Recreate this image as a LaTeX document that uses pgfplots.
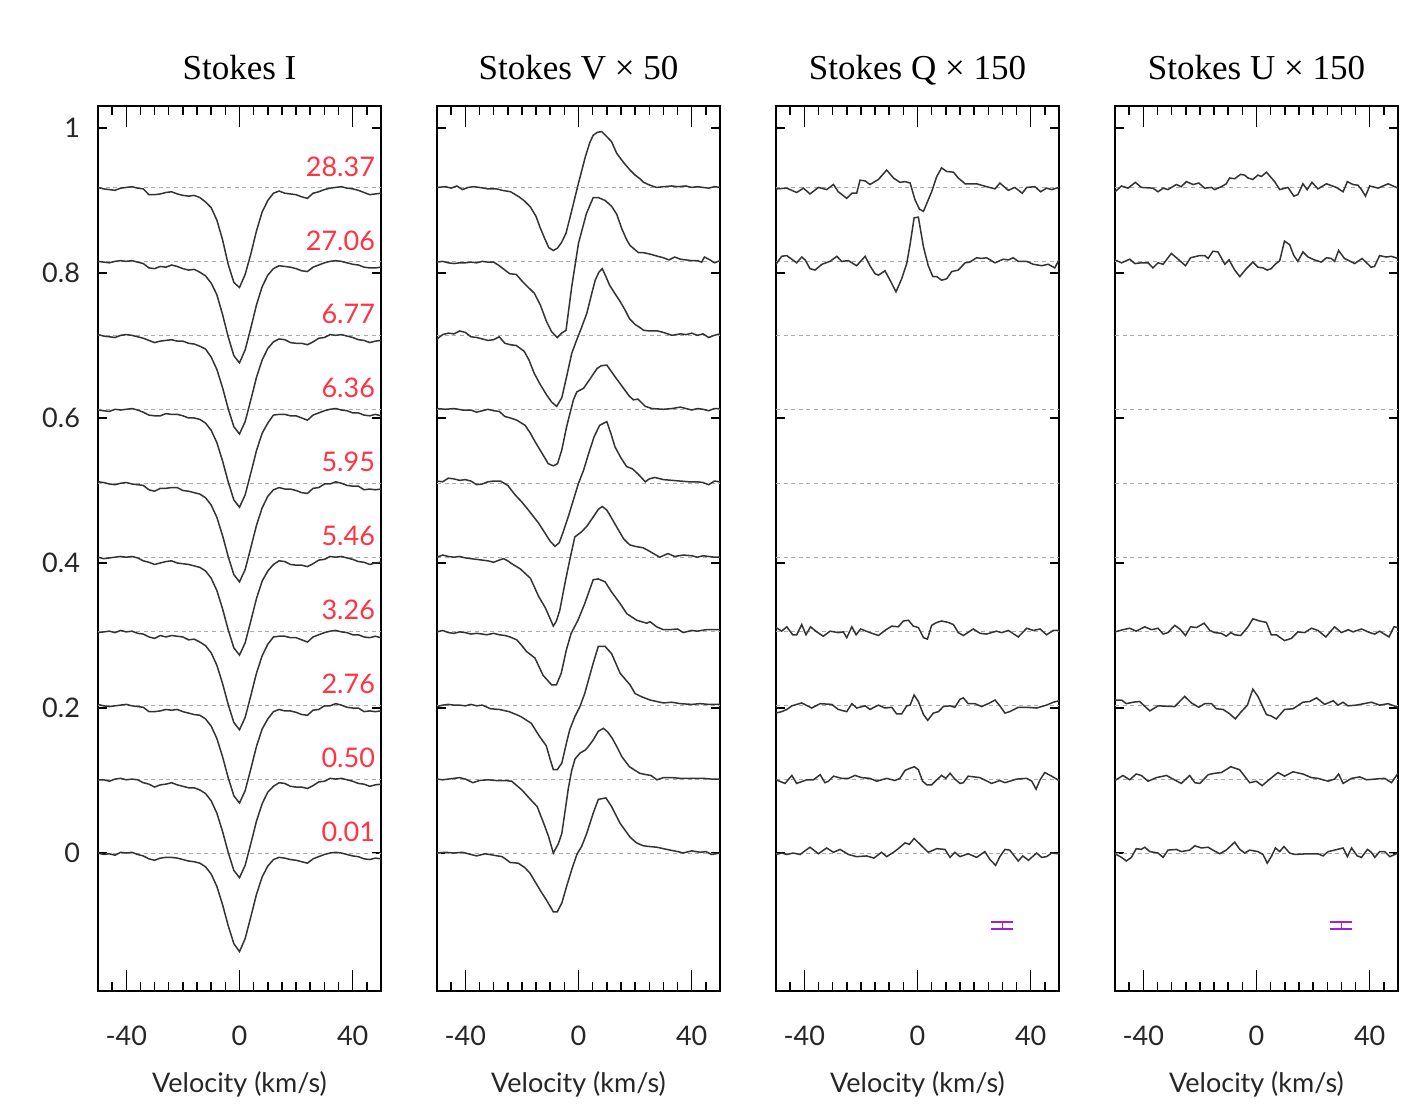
\documentclass[border=0pt]{standalone}
\usepackage{fontspec}
\setmainfont{Lato}
\newfontfamily\titlefont{Liberation Serif}
\usepackage{pgfplots}
\usepackage{pgfplotstable}
\pgfplotsset{compat=1.18}
\definecolor{cline}{HTML}{333333}
\definecolor{cdash}{HTML}{AAAAAA}
\definecolor{cred}{HTML}{FF3344}
\definecolor{cpurple}{HTML}{A21FDA}

% Stokes I profiles relative to their offsets; p0 = phase 0.01 ... p9 = phase 28.37
\pgfplotstableread{
v p0 p1 p2 p3 p4 p5 p6 p7 p8 p9
-50 0.000 -0.001 0.001 -0.002 0.000 0.002 -0.001 0.001 0.000 0.000
-48 -0.002 -0.001 -0.001 -0.001 -0.002 0.001 -0.002 -0.001 -0.001 -0.002
-46 -0.001 -0.003 -0.002 0.000 -0.001 -0.001 -0.003 -0.002 -0.002 -0.003
-44 -0.003 0.000 -0.001 -0.002 0.000 -0.002 0.000 -0.003 0.000 -0.004
-42 0.001 0.001 0.000 0.001 0.001 0.000 -0.001 0.000 0.001 -0.001
-40 0.000 -0.001 0.001 -0.001 0.000 0.001 0.000 0.001 0.000 0.000
-38 0.001 0.000 -0.001 0.000 0.001 -0.001 0.001 0.000 0.001 0.001
-36 -0.002 -0.001 -0.002 -0.003 -0.001 -0.002 -0.001 -0.002 -0.001 -0.001
-34 -0.004 -0.005 -0.003 -0.004 -0.005 -0.003 -0.004 -0.004 -0.003 -0.002
-32 -0.008 -0.007 -0.009 -0.008 -0.007 -0.009 -0.008 -0.007 -0.009 -0.010
-30 -0.010 -0.011 -0.009 -0.010 -0.010 -0.011 -0.009 -0.010 -0.010 -0.010
-28 -0.007 -0.008 -0.008 -0.006 -0.008 -0.007 -0.009 -0.008 -0.007 -0.009
-26 -0.006 -0.007 -0.006 -0.008 -0.006 -0.007 -0.006 -0.007 -0.008 -0.007
-24 -0.006 -0.005 -0.007 -0.006 -0.005 -0.006 -0.007 -0.006 -0.005 -0.006
-22 -0.007 -0.008 -0.006 -0.007 -0.008 -0.006 -0.007 -0.008 -0.007 -0.009
-20 -0.009 -0.010 -0.009 -0.008 -0.009 -0.010 -0.009 -0.008 -0.010 -0.011
-18 -0.011 -0.012 -0.011 -0.012 -0.010 -0.011 -0.012 -0.011 -0.012 -0.012
-16 -0.012 -0.012 -0.013 -0.011 -0.012 -0.013 -0.012 -0.012 -0.011 -0.011
-14 -0.014 -0.015 -0.014 -0.015 -0.014 -0.015 -0.014 -0.015 -0.015 -0.014
-12 -0.019 -0.020 -0.019 -0.020 -0.019 -0.020 -0.019 -0.019 -0.020 -0.020
-10 -0.029 -0.030 -0.029 -0.030 -0.029 -0.030 -0.029 -0.030 -0.030 -0.028
-8 -0.046 -0.047 -0.046 -0.047 -0.046 -0.047 -0.046 -0.047 -0.046 -0.045
-6 -0.071 -0.072 -0.071 -0.072 -0.071 -0.072 -0.071 -0.072 -0.073 -0.072
-4 -0.100 -0.101 -0.100 -0.101 -0.100 -0.101 -0.100 -0.101 -0.104 -0.106
-2 -0.125 -0.126 -0.125 -0.126 -0.125 -0.126 -0.125 -0.126 -0.130 -0.131
0 -0.136 -0.136 -0.135 -0.136 -0.135 -0.136 -0.135 -0.136 -0.140 -0.138
2 -0.118 -0.119 -0.118 -0.119 -0.118 -0.119 -0.118 -0.119 -0.122 -0.120
4 -0.088 -0.089 -0.088 -0.089 -0.088 -0.089 -0.088 -0.089 -0.092 -0.092
6 -0.057 -0.058 -0.057 -0.058 -0.057 -0.058 -0.057 -0.058 -0.060 -0.060
8 -0.033 -0.034 -0.033 -0.034 -0.033 -0.034 -0.033 -0.034 -0.035 -0.034
10 -0.018 -0.018 -0.019 -0.018 -0.019 -0.018 -0.019 -0.018 -0.019 -0.018
12 -0.009 -0.010 -0.009 -0.008 -0.010 -0.009 -0.008 -0.009 -0.010 -0.008
14 -0.006 -0.005 -0.006 -0.007 -0.005 -0.006 -0.007 -0.005 -0.006 -0.005
16 -0.007 -0.006 -0.008 -0.007 -0.006 -0.008 -0.007 -0.006 -0.007 -0.008
18 -0.009 -0.010 -0.008 -0.009 -0.010 -0.008 -0.009 -0.010 -0.008 -0.009
20 -0.010 -0.011 -0.010 -0.009 -0.011 -0.010 -0.009 -0.011 -0.010 -0.010
22 -0.012 -0.011 -0.013 -0.012 -0.011 -0.013 -0.012 -0.011 -0.013 -0.013
24 -0.014 -0.013 -0.014 -0.015 -0.013 -0.014 -0.015 -0.013 -0.014 -0.015
26 -0.008 -0.009 -0.007 -0.008 -0.009 -0.007 -0.008 -0.009 -0.008 -0.008
28 -0.005 -0.004 -0.006 -0.005 -0.004 -0.006 -0.005 -0.004 -0.005 -0.006
30 -0.002 -0.003 -0.001 -0.002 -0.003 -0.001 -0.002 -0.003 -0.002 -0.003
32 0.000 0.001 -0.001 0.000 0.001 -0.001 0.000 0.001 0.000 -0.001
34 0.001 0.000 0.002 0.001 0.000 0.002 0.001 0.000 0.001 0.000
36 0.000 0.001 0.000 -0.001 0.001 0.000 -0.001 0.001 0.000 0.001
38 -0.002 -0.001 -0.003 -0.002 -0.001 -0.003 -0.002 -0.001 -0.002 -0.001
40 -0.004 -0.003 -0.004 -0.005 -0.003 -0.004 -0.005 -0.003 -0.004 -0.002
42 -0.005 -0.006 -0.004 -0.005 -0.006 -0.004 -0.005 -0.006 -0.005 -0.004
44 -0.008 -0.007 -0.009 -0.008 -0.007 -0.009 -0.008 -0.007 -0.008 -0.007
46 -0.009 -0.010 -0.008 -0.009 -0.010 -0.008 -0.009 -0.010 -0.009 -0.010
48 -0.007 -0.008 -0.009 -0.007 -0.008 -0.009 -0.007 -0.008 -0.009 -0.009
50 -0.008 -0.007 -0.008 -0.009 -0.007 -0.008 -0.009 -0.007 -0.008 -0.008
}\tabI

\pgfplotsset{
  prof/.style={cline, line width=0.75pt, mark=none},
  dsh/.style={cdash, line width=0.5pt, dash pattern=on 2pt off 1.8pt, mark=none},
  ebar/.style={cpurple, mark=none, error bars/.cd, y dir=both, y explicit, error mark=|,
    error bar style={line width=0.75pt, cpurple},
    error mark options={mark size=5.5pt, line width=0.75pt, cpurple}},
  panel/.style={
    scale only axis, width=141.5pt, height=442.5pt, anchor=south west,
    xmin=-50, xmax=50, ymin=-0.1903, ymax=1.0303,
    xtick={-40,0,40}, xticklabels={-40,0,40},
    minor xtick={-45,-35,-30,-25,-20,-15,-10,-5,5,10,15,20,25,30,35,45},
    ytick={0,0.2,0.4,0.6,0.8,1}, yticklabels={},
    tick align=inside,
    tick style={black, line width=0.75pt},
    xtick style={/pgfplots/major tick length=10.5pt, /pgfplots/minor tick length=4.5pt},
    ytick style={/pgfplots/major tick length=4.5pt},
    axis line style={black, line width=0.9pt},
    tick label style={font=\fontsize{13.5}{16}\selectfont, color=black!85},
    xticklabel style={anchor=base, yshift=-27pt},
    yticklabel style={xshift=-5.5pt},
    xlabel={Velocity (km/s)},
    xlabel style={font=\fontsize{13.5}{16}\selectfont, color=black!85, at={(axis description cs:0.5,0)}, anchor=base, yshift=-50.5pt},
    title style={font=\titlefont\fontsize{17.5}{21}\selectfont, at={(axis description cs:0.5,1)}, anchor=base, yshift=7pt},
  }
}
\newcommand{\prof}[2]{\addplot[prof] table[row sep=\\, x=v, y expr=\thisrow{d}+#1]{v d\\ #2};}
\newcommand{\dashlines}{%
  \addplot[dsh] coordinates {(-50,0) (50,0)};
  \addplot[dsh] coordinates {(-50,0.102) (50,0.102)};
  \addplot[dsh] coordinates {(-50,0.204) (50,0.204)};
  \addplot[dsh] coordinates {(-50,0.306) (50,0.306)};
  \addplot[dsh] coordinates {(-50,0.408) (50,0.408)};
  \addplot[dsh] coordinates {(-50,0.510) (50,0.510)};
  \addplot[dsh] coordinates {(-50,0.612) (50,0.612)};
  \addplot[dsh] coordinates {(-50,0.714) (50,0.714)};
  \addplot[dsh] coordinates {(-50,0.816) (50,0.816)};
  \addplot[dsh] coordinates {(-50,0.918) (50,0.918)};
}
\newcommand{\phlabel}[2]{\node[anchor=east, inner sep=0pt, text=cred, font=\fontsize{13.5}{16}\selectfont] at (axis cs:48,#1) {#2};}

\begin{document}
\begin{tikzpicture}
\useasboundingbox (0pt,0pt) rectangle (706pt,557.5pt);

% ---------------- Stokes I ----------------
\begin{axis}[panel, at={(49pt,62pt)}, title={Stokes I}, yticklabels={0,0.2,0.4,0.6,0.8,1}]
\dashlines
\addplot[prof] table[x=v, y expr=\thisrow{p0}+0] {\tabI};
\addplot[prof] table[x=v, y expr=\thisrow{p1}+0.102] {\tabI};
\addplot[prof] table[x=v, y expr=\thisrow{p2}+0.204] {\tabI};
\addplot[prof] table[x=v, y expr=\thisrow{p3}+0.306] {\tabI};
\addplot[prof] table[x=v, y expr=\thisrow{p4}+0.408] {\tabI};
\addplot[prof] table[x=v, y expr=\thisrow{p5}+0.510] {\tabI};
\addplot[prof] table[x=v, y expr=\thisrow{p6}+0.612] {\tabI};
\addplot[prof] table[x=v, y expr=\thisrow{p7}+0.714] {\tabI};
\addplot[prof] table[x=v, y expr=\thisrow{p8}+0.816] {\tabI};
\addplot[prof] table[x=v, y expr=\thisrow{p9}+0.918] {\tabI};
\phlabel{0.947}{28.37}
\phlabel{0.845}{27.06}
\phlabel{0.743}{6.77}
\phlabel{0.641}{6.36}
\phlabel{0.539}{5.95}
\phlabel{0.437}{5.46}
\phlabel{0.335}{3.26}
\phlabel{0.233}{2.76}
\phlabel{0.131}{0.50}
\phlabel{0.029}{0.01}
\end{axis}

% ---------------- Stokes V ----------------
\begin{axis}[panel, at={(218.5pt,62pt)}, title={Stokes V × 50}]
\dashlines
\prof{0.918}{-50 0\\ -47 0.001\\ -45 -0.001\\ -43 0.002\\ -41 -0.003\\ -39 0\\ -37 0.001\\ -35 0\\ -32 -0.002\\ -29 -0.002\\ -27 -0.004\\ -24 -0.006\\ -21 -0.013\\ -19 -0.019\\ -17 -0.027\\ -15 -0.040\\ -13.6 -0.055\\ -12 -0.070\\ -10.5 -0.083\\ -8.9 -0.087\\ -7.5 -0.084\\ -6 -0.076\\ -4.4 -0.063\\ -2.4 -0.032\\ 0 0.006\\ 2.4 0.042\\ 4 0.062\\ 5.2 0.072\\ 6.7 0.076\\ 8.2 0.077\\ 10 0.070\\ 11.7 0.063\\ 13.5 0.047\\ 16 0.034\\ 18.2 0.024\\ 20 0.017\\ 21.7 0.012\\ 23 0.007\\ 24.7 0.004\\ 26 0.002\\ 27.6 0\\ 30 0.001\\ 33 0.002\\ 35 0.001\\ 38 0.002\\ 40 0\\ 42 0.001\\ 44 0\\ 46 -0.001\\ 48 0.001\\ 50 0\\}
\prof{0.816}{-50 -0.001\\ -48 0\\ -46 -0.002\\ -44 -0.003\\ -42 -0.002\\ -40 -0.002\\ -38 -0.001\\ -36 -0.002\\ -34 0\\ -32 -0.001\\ -30 -0.001\\ -28 -0.006\\ -26 -0.012\\ -24.3 -0.017\\ -22 -0.018\\ -20 -0.027\\ -18.5 -0.033\\ -15.6 -0.044\\ -13.5 -0.060\\ -11.3 -0.083\\ -9.5 -0.097\\ -7.5 -0.105\\ -6 -0.099\\ -4.4 -0.095\\ -2.4 -0.035\\ 0 0.025\\ 2.8 0.066\\ 5.2 0.088\\ 7 0.088\\ 9.4 0.084\\ 11.7 0.076\\ 13.5 0.065\\ 15.3 0.045\\ 17 0.030\\ 18.2 0.022\\ 21.2 0.012\\ 23 0.012\\ 25.3 0.010\\ 28 0.007\\ 30 0.005\\ 32 0.002\\ 34 0.006\\ 36 0.003\\ 38 0.002\\ 40 0.001\\ 42 0.001\\ 43.5 -0.001\\ 44.5 0.006\\ 46.5 0.002\\ 48 -0.002\\ 50 0.001\\}
\prof{0.714}{-50 -0.005\\ -48 0.001\\ -46 0.003\\ -44 0.002\\ -42 0.006\\ -40 0.004\\ -38 -0.002\\ -36 -0.003\\ -34 -0.005\\ -32 -0.007\\ -30 -0.006\\ -28 -0.002\\ -26 -0.011\\ -24 -0.013\\ -22 -0.014\\ -19.2 -0.022\\ -17.5 -0.034\\ -15.7 -0.052\\ -13.5 -0.068\\ -11.3 -0.082\\ -9.5 -0.092\\ -7.7 -0.098\\ -5.9 -0.086\\ -4.2 -0.057\\ -2.4 -0.025\\ -1 -0.010\\ 1 0.010\\ 2.9 0.030\\ 4.5 0.055\\ 5.9 0.076\\ 7.2 0.087\\ 8.4 0.092\\ 9.8 0.080\\ 11 0.069\\ 12.8 0.058\\ 14.5 0.048\\ 16.3 0.036\\ 18 0.023\\ 20 0.015\\ 21.6 0.011\\ 23 0.007\\ 25 0.006\\ 28 0.006\\ 30 0.004\\ 33 0\\ 36 0.002\\ 38 0.001\\ 40 0.003\\ 42 0\\ 44 0.002\\ 46 -0.003\\ 48 0\\ 50 0.002\\}
\prof{0.612}{-50 0.001\\ -47 0\\ -44 0.001\\ -41 -0.001\\ -38 -0.001\\ -36 -0.004\\ -34 -0.002\\ -32 0\\ -30 -0.002\\ -28 -0.003\\ -26 -0.010\\ -24 -0.012\\ -21.8 -0.015\\ -18.9 -0.022\\ -17 -0.033\\ -15.3 -0.045\\ -13 -0.060\\ -10.7 -0.075\\ -8.9 -0.078\\ -7.4 -0.075\\ -5.9 -0.056\\ -4.2 -0.024\\ -1.8 0.013\\ -0.6 0.024\\ 1.8 0.029\\ 4.1 0.042\\ 6.5 0.056\\ 8 0.060\\ 10 0.061\\ 12.9 0.045\\ 15.9 0.029\\ 18 0.018\\ 19.4 0.013\\ 21 0.014\\ 23.6 0.004\\ 26 0.001\\ 30 0\\ 33 0.001\\ 36 0.003\\ 38 0.001\\ 40 -0.001\\ 42 0.001\\ 44 0\\ 46 -0.002\\ 48 0.001\\ 50 0.001\\}
\prof{0.510}{-50 0.003\\ -48 0.002\\ -46 0.007\\ -44 0.006\\ -42 0.004\\ -40 0.005\\ -38 0.003\\ -36 -0.002\\ -34 -0.001\\ -32 0.002\\ -30 0.003\\ -27.6 0.003\\ -25 -0.003\\ -22.4 -0.016\\ -20 -0.026\\ -17.7 -0.037\\ -14.1 -0.055\\ -11.8 -0.069\\ -10 -0.080\\ -8.3 -0.087\\ -6.8 -0.082\\ -5.4 -0.067\\ -3.6 -0.046\\ -1.8 -0.023\\ 0 0\\ 1.8 0.018\\ 3.5 0.040\\ 5.5 0.064\\ 7.5 0.080\\ 10 0.085\\ 11.5 0.068\\ 12.9 0.050\\ 15 0.035\\ 17 0.023\\ 19 0.020\\ 21 0.013\\ 23.6 0.002\\ 25 0.006\\ 27 0.008\\ 30 0.005\\ 33 0.004\\ 36 0.003\\ 39 0.002\\ 42 0.002\\ 44 0.001\\ 46 -0.002\\ 48 0.003\\ 50 0.002\\}
\prof{0.408}{-50 0\\ -48 0.003\\ -46 0.001\\ -44 0\\ -42 0.001\\ -40 -0.001\\ -38 -0.002\\ -36 -0.003\\ -34 -0.004\\ -32 -0.005\\ -30 -0.007\\ -28 -0.004\\ -26.5 -0.002\\ -25 -0.005\\ -23.6 -0.009\\ -20.6 -0.016\\ -17 -0.029\\ -14.1 -0.054\\ -11.7 -0.070\\ -10 -0.085\\ -8.9 -0.095\\ -7.8 -0.088\\ -6.6 -0.073\\ -4.8 -0.036\\ -3.1 -0.004\\ -1.3 0.028\\ 1.1 0.035\\ 3 0.043\\ 5.3 0.056\\ 7 0.066\\ 8.4 0.070\\ 10 0.065\\ 11.4 0.056\\ 13 0.045\\ 14.8 0.033\\ 16 0.025\\ 18.1 0.017\\ 20 0.015\\ 22.8 0.013\\ 25.2 0.008\\ 28.7 0\\ 31.6 0.005\\ 34 0.001\\ 37 0.003\\ 40 0.002\\ 42 0\\ 44 0.002\\ 46 0.001\\ 48 0\\ 50 0\\}
\prof{0.306}{-50 -0.001\\ -48 0.001\\ -46 -0.002\\ -44 -0.003\\ -42 -0.001\\ -40 -0.002\\ -38 -0.004\\ -36 -0.003\\ -34 -0.004\\ -32.4 -0.005\\ -30 -0.003\\ -28 -0.005\\ -26 -0.006\\ -24.2 -0.008\\ -21.8 -0.012\\ -20 -0.020\\ -18.4 -0.028\\ -15.4 -0.037\\ -12.5 -0.061\\ -9.5 -0.074\\ -7.8 -0.074\\ -6.1 -0.058\\ -4.3 -0.026\\ -2.6 -0.003\\ -0.2 0.015\\ 2.2 0.038\\ 5.2 0.071\\ 7 0.072\\ 9.4 0.068\\ 11.7 0.054\\ 14.7 0.038\\ 17.1 0.024\\ 20.6 0.015\\ 24.1 0.011\\ 25.3 0.013\\ 27.6 0.006\\ 30 0.002\\ 32 0.002\\ 35 0.003\\ 37 -0.002\\ 40 0.001\\ 42 0\\ 45 0.002\\ 48 0.002\\ 50 0.002\\}
\prof{0.204}{-50 -0.002\\ -48 0\\ -46 0.001\\ -44 0\\ -42 0\\ -40 -0.001\\ -38 0.001\\ -36 -0.001\\ -34 0\\ -31.1 -0.005\\ -28 -0.006\\ -24.5 -0.009\\ -22 -0.013\\ -20.3 -0.016\\ -16.7 -0.025\\ -13.8 -0.043\\ -11.4 -0.056\\ -10 -0.075\\ -8.9 -0.089\\ -7.5 -0.089\\ -5.9 -0.080\\ -4.3 -0.053\\ -3.1 -0.034\\ -1.3 -0.016\\ 0.5 -0.002\\ 2.2 0.016\\ 5.2 0.058\\ 7 0.081\\ 9.4 0.081\\ 11.7 0.071\\ 14.7 0.044\\ 18.2 0.028\\ 20 0.016\\ 22 0.012\\ 25.3 0.007\\ 30 0.003\\ 33 0.004\\ 36 0.002\\ 40 0.001\\ 43 0.002\\ 46 0.001\\ 50 0.001\\}
\prof{0.102}{-50 0\\ -48 -0.001\\ -46 0\\ -44 0.001\\ -42 0.002\\ -40 0\\ -37.3 -0.005\\ -35 -0.002\\ -32 -0.001\\ -29 -0.002\\ -26 -0.002\\ -23.6 -0.003\\ -20 -0.015\\ -17 -0.028\\ -14.6 -0.038\\ -12.3 -0.061\\ -10.6 -0.079\\ -8.9 -0.102\\ -7.1 -0.089\\ -5.9 -0.075\\ -4.7 -0.043\\ -3.6 -0.013\\ -2.4 0.012\\ -1.2 0.028\\ 0.6 0.036\\ 2.4 0.040\\ 3.5 0.045\\ 5.2 0.054\\ 7 0.066\\ 8.8 0.070\\ 10.3 0.065\\ 11.8 0.057\\ 13.5 0.045\\ 15.3 0.031\\ 18 0.017\\ 21.6 0.008\\ 24 0.006\\ 25.6 0.005\\ 27.7 -0.001\\ 30 0.002\\ 33 0.002\\ 36 0.001\\ 40 0.001\\ 44 0.001\\ 47 0\\ 50 0\\}
\prof{0}{-50 0\\ -47 0.001\\ -44 0\\ -41 0.001\\ -38 -0.002\\ -36 -0.004\\ -33 -0.001\\ -30 -0.003\\ -27 -0.005\\ -25.5 -0.009\\ -24.2 -0.013\\ -21.3 -0.014\\ -19 -0.020\\ -17.1 -0.028\\ -13.6 -0.051\\ -11.3 -0.065\\ -8.9 -0.081\\ -7.5 -0.081\\ -5.9 -0.069\\ -4.2 -0.046\\ -2.4 -0.023\\ -0.6 -0.002\\ 1.1 0.009\\ 2.9 0.027\\ 5.2 0.055\\ 7 0.074\\ 9.7 0.076\\ 11.7 0.064\\ 14.7 0.041\\ 18.2 0.022\\ 20.5 0.014\\ 22.9 0.010\\ 25 0.009\\ 27.7 0.008\\ 30 0.006\\ 32.4 0.004\\ 35 0.002\\ 37 0\\ 40 0.003\\ 43 0.001\\ 45 0.002\\ 47 -0.002\\ 50 0\\}
\end{axis}

% ---------------- Stokes Q ----------------
\begin{axis}[panel, at={(388pt,62pt)}, title={Stokes Q × 150}]
\dashlines
\prof{0.918}{-50 -0.002\\ -46.2 -0.001\\ -42.7 -0.007\\ -40.3 -0.001\\ -38 -0.009\\ -35 0\\ -32.1 -0.003\\ -29.7 0.004\\ -28 -0.006\\ -25 -0.015\\ -23.2 -0.008\\ -21.5 -0.008\\ -20.3 0.010\\ -18.5 0.009\\ -16.8 0.004\\ -13.8 0.011\\ -10.9 0.024\\ -8.5 0.013\\ -6.2 0.007\\ -4.4 0.008\\ -2.6 0.006\\ -0.9 -0.017\\ 0.7 -0.030\\ 2.1 -0.033\\ 5 -0.006\\ 6.8 0.015\\ 8.5 0.027\\ 10.3 0.022\\ 12.7 0.021\\ 14.4 0.013\\ 16.8 0.005\\ 20.9 0.005\\ 24.4 0.001\\ 27.4 -0.002\\ 29.1 0.006\\ 32.1 -0.004\\ 34.4 0\\ 37 -0.008\\ 38.6 0\\ 41.5 0.001\\ 43.5 -0.006\\ 45.6 -0.001\\ 47.4 -0.003\\ 50 0\\}
\prof{0.816}{-50 -0.004\\ -48 0.007\\ -46.2 0.008\\ -42.7 -0.002\\ -40.9 0.006\\ -39.7 0.002\\ -38 -0.010\\ -36.2 -0.012\\ -33.8 -0.004\\ -30.9 0\\ -28.5 0.007\\ -26.8 0\\ -24.4 0.001\\ -21.5 -0.006\\ -18.5 0.007\\ -16.8 -0.006\\ -15 -0.017\\ -13.8 -0.019\\ -11.5 -0.013\\ -9.7 -0.026\\ -7.6 -0.042\\ -5.6 -0.024\\ -3.8 -0.003\\ -2.6 0.024\\ -1.2 0.060\\ 0.3 0.061\\ 2.1 0.020\\ 3.8 -0.006\\ 5.4 -0.021\\ 6.8 -0.021\\ 8.5 -0.026\\ 10.3 -0.024\\ 12.1 -0.014\\ 14.4 -0.012\\ 16.8 -0.002\\ 18.5 -0.001\\ 20.9 0.005\\ 22.6 0.004\\ 24.4 0.005\\ 27.4 -0.002\\ 30.3 0.003\\ 32.1 0.002\\ 33.8 0.005\\ 35.6 0\\ 38.6 0\\ 40.9 -0.004\\ 43.9 -0.006\\ 46.2 -0.004\\ 48.5 -0.009\\ 50 0.002\\}
\prof{0.306}{-50 0.005\\ -48 0\\ -46.2 0.006\\ -44.1 -0.005\\ -42.7 -0.005\\ -40.9 0.009\\ -39.4 -0.005\\ -37.8 0.006\\ -35.6 -0.001\\ -33.3 -0.007\\ -30.9 0\\ -28 -0.002\\ -26.2 -0.001\\ -25 -0.009\\ -23.2 0.006\\ -21.7 -0.005\\ -20.1 0.003\\ -16.8 -0.002\\ -13.8 -0.006\\ -11.5 0.001\\ -9.1 0.007\\ -6.8 0.006\\ -5 0.014\\ -3.2 0.015\\ -1.5 0.007\\ 0.3 0.005\\ 2.1 -0.009\\ 3.5 -0.011\\ 5 0.008\\ 6.8 0.012\\ 8.5 0.014\\ 10.9 0.012\\ 12.7 0.009\\ 14.4 -0.002\\ 16.2 -0.006\\ 19.7 0.003\\ 22.1 -0.003\\ 24.4 -0.004\\ 27.9 0\\ 29.7 -0.002\\ 32.1 0.001\\ 35.6 -0.008\\ 38.6 0.004\\ 40.9 0.001\\ 43.3 0.003\\ 45.6 -0.005\\ 48 0.001\\ 50 0.001\\}
\prof{0.204}{-50 -0.011\\ -48 -0.009\\ -46.2 -0.006\\ -44.4 -0.001\\ -40.9 0.003\\ -37.4 -0.004\\ -34.4 0.002\\ -30.3 0.001\\ -28 -0.006\\ -25 -0.009\\ -23.2 0.002\\ -21.5 -0.004\\ -18.5 -0.001\\ -16.8 -0.006\\ -13.8 0\\ -11.5 -0.004\\ -9.1 -0.003\\ -7.4 -0.012\\ -5.6 -0.012\\ -3.8 -0.001\\ -2.6 0\\ -1.2 0.014\\ 0.3 0.005\\ 2.1 -0.013\\ 3.6 -0.021\\ 5.6 -0.011\\ 7.4 -0.009\\ 9.1 -0.002\\ 11.5 -0.001\\ 13.2 -0.003\\ 15 0.008\\ 16.2 0.010\\ 17.9 0.002\\ 20.3 0.002\\ 22.6 -0.002\\ 25 0.002\\ 27.4 0.007\\ 29.1 -0.001\\ 30.9 -0.011\\ 32.6 -0.009\\ 35.6 -0.003\\ 38.6 -0.003\\ 42.1 -0.004\\ 45.6 0\\ 48 0.004\\ 50 0.006\\}
\prof{0.102}{-50 -0.001\\ -46.8 -0.006\\ -44.4 0.005\\ -42.7 -0.006\\ -39.1 -0.001\\ -36.8 -0.001\\ -34.4 0.006\\ -32.7 -0.005\\ -31.5 -0.003\\ -29.7 0.004\\ -26.8 0.001\\ -24.4 0.001\\ -22.1 0.005\\ -19.7 0.002\\ -16.8 0.001\\ -14.4 -0.003\\ -10.9 0.001\\ -8 -0.002\\ -6.2 0.001\\ -4.4 0.012\\ -2.6 0.015\\ -1.1 0.017\\ 0.3 0.013\\ 1.8 -0.003\\ 3.3 -0.008\\ 5 -0.008\\ 6.8 -0.001\\ 8.5 0.005\\ 10 0.001\\ 11.5 0.008\\ 13.2 0\\ 15 -0.006\\ 16.2 -0.005\\ 17.9 0.004\\ 22.1 0.002\\ 26.2 -0.006\\ 29.1 -0.002\\ 30.9 -0.005\\ 35 0\\ 38.6 0.001\\ 40.4 -0.003\\ 41.9 -0.014\\ 43.3 -0.001\\ 45 0.009\\ 47.4 0.004\\ 50 -0.002\\}
\prof{0}{-50 -0.002\\ -48 0\\ -46.2 -0.002\\ -43.9 0\\ -41.5 -0.002\\ -38 0.008\\ -35 -0.001\\ -32.1 0.007\\ -29.7 0.001\\ -27.4 0.005\\ -24.4 -0.002\\ -21.5 -0.005\\ -18 -0.004\\ -15.4 -0.007\\ -12.7 0.001\\ -10.9 -0.005\\ -8.5 0.001\\ -6.8 0.006\\ -4.4 0.014\\ -2.9 0.012\\ -1.2 0.020\\ 0.9 0.012\\ 3.8 0.001\\ 6.8 0.006\\ 9.7 0.005\\ 11.5 -0.006\\ 13.2 0.001\\ 15 -0.005\\ 17.9 -0.001\\ 20.9 -0.006\\ 23.8 0.002\\ 25.6 -0.009\\ 27.6 -0.017\\ 29.1 -0.005\\ 30.9 0.005\\ 32.6 0.004\\ 35.6 -0.011\\ 37.2 -0.004\\ 39.2 -0.010\\ 42.1 0\\ 43.9 -0.006\\ 45.6 -0.005\\ 47.4 0\\ 50 -0.001\\}
\addplot[ebar] coordinates {(30,-0.1) +- (0,0.005)};
\end{axis}

% ---------------- Stokes U ----------------
\begin{axis}[panel, at={(557.5pt,62pt)}, title={Stokes U × 150}]
\dashlines
\prof{0.918}{-50 -0.006\\ -47.7 0.002\\ -45.4 -0.001\\ -42.8 0.007\\ -40.7 0\\ -36.6 -0.001\\ -34.8 -0.006\\ -33 -0.001\\ -31.3 -0.003\\ -28.3 0.004\\ -26.6 0.001\\ -24.8 0.008\\ -22.4 0.004\\ -20.4 0.006\\ -18.3 -0.001\\ -15.9 0\\ -14.8 -0.003\\ -12.4 0.001\\ -10.7 0.005\\ -9.5 0.013\\ -7.7 0.012\\ -5.6 0.018\\ -4.2 0.017\\ -3 0.013\\ -1.3 0.011\\ 0.5 0.017\\ 1.7 0.015\\ 3.5 0.021\\ 6.4 0.008\\ 8.2 -0.003\\ 11.1 0\\ 13.2 -0.012\\ 14.6 -0.010\\ 16.4 0.005\\ 17.9 -0.003\\ 19.6 0.007\\ 21.7 -0.002\\ 24.7 0.005\\ 28.2 0\\ 30.6 -0.006\\ 32.1 0.008\\ 34.1 0.004\\ 35.9 0.003\\ 37.1 -0.003\\ 38.5 -0.012\\ 40 0.002\\ 43 -0.001\\ 46.5 0.005\\ 50 -0.001\\}
\prof{0.816}{-50 0.002\\ -47.7 -0.002\\ -44.8 0.003\\ -43 -0.003\\ -40.7 -0.002\\ -38.3 -0.002\\ -36.6 -0.009\\ -34.8 -0.002\\ -33 -0.004\\ -30.1 0.011\\ -27.7 0.003\\ -25.1 -0.006\\ -23.3 0.005\\ -20.1 0.008\\ -18.3 0.008\\ -17.1 0.004\\ -15.4 0.014\\ -13.6 0.013\\ -11.2 -0.004\\ -9.7 0.002\\ -7.7 -0.012\\ -5.9 -0.021\\ -3.6 -0.010\\ -1.3 -0.001\\ 0.5 -0.008\\ 2.3 -0.009\\ 3.8 -0.012\\ 5.2 -0.010\\ 6.6 -0.004\\ 8.2 0.001\\ 9.9 0.028\\ 11.7 0.023\\ 13.2 0.008\\ 14.6 0\\ 16.4 0.013\\ 18.2 0.006\\ 20.5 0.002\\ 22.9 -0.001\\ 24.7 0.005\\ 26.4 0.004\\ 27.6 0\\ 29 0.015\\ 31.1 0.004\\ 34.7 -0.003\\ 37.3 0.004\\ 40.5 -0.008\\ 41.7 -0.007\\ 43.5 0.008\\ 45.8 0.006\\ 47.6 0.007\\ 50 0.004\\}
\prof{0.306}{-50 -0.001\\ -47.2 0.002\\ -44.8 0.004\\ -42.5 0\\ -39.5 0.006\\ -37.1 0.002\\ -34.8 0.004\\ -33 -0.004\\ -31.3 -0.002\\ -28.9 0.008\\ -27.1 0.003\\ -25.1 -0.006\\ -23.3 0.006\\ -21.2 0.005\\ -18.5 0.011\\ -16.5 0.001\\ -14.8 -0.002\\ -12.4 -0.003\\ -10.7 -0.007\\ -9.1 -0.002\\ -7.7 -0.005\\ -5.6 -0.006\\ -3 0.006\\ -1.3 0.017\\ 1.1 0.014\\ 3.5 0.012\\ 5.2 -0.005\\ 7 -0.005\\ 9.9 -0.013\\ 12.3 -0.010\\ 14.6 -0.001\\ 17 -0.002\\ 19.4 0.004\\ 21.7 0.001\\ 24.5 -0.008\\ 27.6 0.006\\ 30 -0.002\\ 32.4 0.002\\ 34.1 -0.001\\ 37.1 0.003\\ 40 -0.002\\ 41.8 -0.004\\ 43.5 0\\ 46.8 -0.008\\ 48.6 0.006\\ 50 0.005\\}
\prof{0.204}{-50 0.007\\ -47.7 0.007\\ -46 0.002\\ -43.6 0.004\\ -41.3 0.005\\ -37.7 -0.008\\ -34.8 -0.001\\ -28.9 -0.002\\ -25.4 0.012\\ -23 0.003\\ -20.4 -0.003\\ -18.3 0.002\\ -15.9 0.002\\ -14.2 -0.005\\ -11.8 -0.006\\ -9.5 -0.012\\ -7.5 -0.019\\ -5.6 -0.010\\ -3.2 0\\ -1.3 0.022\\ 0.5 0.012\\ 3.5 -0.013\\ 5.2 -0.015\\ 7 -0.019\\ 9.9 -0.006\\ 12.9 -0.005\\ 16.4 0.004\\ 18.8 0.005\\ 21.2 0.010\\ 24.1 0.001\\ 27.1 0.006\\ 28.8 0\\ 30.6 0.004\\ 32.3 -0.001\\ 35.3 0\\ 40.6 0.004\\ 43.5 0\\ 46.5 0.002\\ 50 -0.003\\}
\prof{0.102}{-50 -0.002\\ -47.2 0.005\\ -44.8 -0.001\\ -42.5 0.007\\ -40.7 0.005\\ -38.3 -0.003\\ -35.4 0.002\\ -31.8 0.005\\ -29.5 0\\ -26.6 -0.006\\ -23.6 0.005\\ -21.8 -0.005\\ -20 -0.006\\ -17.1 0.006\\ -14.8 0.008\\ -12.4 0.009\\ -9.1 0.017\\ -6 0.013\\ -2.4 -0.005\\ -0.1 -0.003\\ 2 -0.009\\ 4.7 0\\ 7.6 0.009\\ 9.9 0.004\\ 12.9 0.010\\ 16.4 0.007\\ 19.4 0.002\\ 21.7 0.001\\ 25.3 -0.003\\ 27.6 0\\ 29 0.007\\ 30.6 -0.006\\ 33.6 0.001\\ 36.5 0.003\\ 38.9 -0.001\\ 41.8 0\\ 45.3 0.001\\ 47.7 -0.005\\ 50 0.008\\}
\prof{0}{-50 -0.001\\ -47.7 -0.006\\ -46 -0.011\\ -44.2 -0.006\\ -42.5 0.006\\ -40.7 0.005\\ -39.5 0.008\\ -37.7 0.002\\ -34.8 0\\ -33 -0.006\\ -31.3 0.004\\ -28.3 0.005\\ -26.6 0.002\\ -23.6 0.004\\ -21.8 0.010\\ -19.5 0.007\\ -17.1 0.008\\ -15.4 0.004\\ -13 -0.001\\ -10.7 0.004\\ -7.7 0.015\\ -5.9 0.005\\ -4.2 0\\ -2.4 0.004\\ 0.5 0.002\\ 2.3 -0.002\\ 3.8 -0.014\\ 5.2 -0.005\\ 6.7 0.007\\ 8.2 0.002\\ 9.7 0.009\\ 11.7 0\\ 13.5 -0.002\\ 18.2 -0.001\\ 21.7 -0.001\\ 23.5 -0.004\\ 25.3 0.002\\ 27.6 0.004\\ 30.6 0.007\\ 32.1 -0.005\\ 33.6 0.007\\ 35.6 -0.004\\ 37.1 -0.006\\ 39.2 0.005\\ 40.6 0.001\\ 41.8 -0.006\\ 43.5 0.002\\ 45.3 0.002\\ 47.1 -0.005\\ 50 0\\}
\addplot[ebar] coordinates {(30,-0.1) +- (0,0.005)};
\end{axis}
\end{tikzpicture}
\end{document}
